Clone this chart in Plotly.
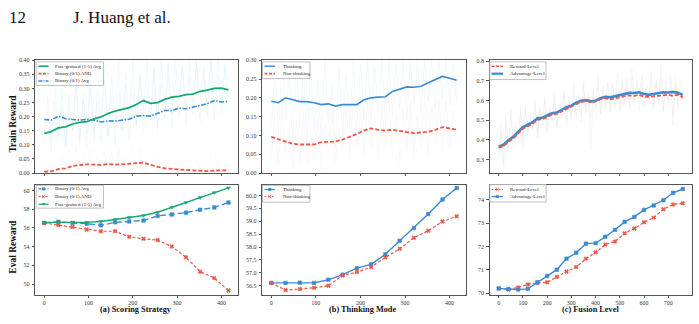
import plotly.graph_objects as go

W, H = 699, 324
FONT = "Liberation Serif"
BLUE = "#3a8bd4"
RED = "#ee5646"
GREEN = "#19a96c"
FRAME = "#555555"

# ---------------- data ----------------
# Train reward (smoothed)
STEPS_TRAIN_AB = list(range(0, 417, 16))
A_TRAIN_FINE = [0.141, 0.147, 0.160, 0.164, 0.174, 0.180, 0.182, 0.192, 0.199, 0.211,
                0.220, 0.225, 0.232, 0.243, 0.257, 0.247, 0.250, 0.261, 0.269, 0.272,
                0.278, 0.280, 0.290, 0.294, 0.300, 0.301, 0.295]
A_TRAIN_AND = [0.005, 0.006, 0.014, 0.017, 0.025, 0.029, 0.031, 0.030, 0.029, 0.032,
               0.030, 0.031, 0.032, 0.035, 0.037, 0.029, 0.022, 0.017, 0.014, 0.013,
               0.011, 0.009, 0.007, 0.007, 0.009, 0.010, 0.010]
A_TRAIN_AVG = [0.190, 0.188, 0.202, 0.193, 0.190, 0.188, 0.190, 0.188, 0.181, 0.185,
               0.184, 0.188, 0.191, 0.202, 0.204, 0.202, 0.211, 0.222, 0.222, 0.230,
               0.228, 0.234, 0.240, 0.246, 0.257, 0.252, 0.254]
B_TRAIN_THINK = [0.191, 0.187, 0.200, 0.195, 0.190, 0.190, 0.187, 0.182, 0.184, 0.178,
                 0.182, 0.182, 0.182, 0.195, 0.200, 0.202, 0.203, 0.217, 0.223, 0.229,
                 0.228, 0.231, 0.240, 0.249, 0.257, 0.252, 0.247]
B_TRAIN_NOTHINK = [0.096, 0.090, 0.084, 0.078, 0.076, 0.076, 0.076, 0.082, 0.083, 0.084,
                   0.089, 0.096, 0.104, 0.113, 0.119, 0.115, 0.113, 0.115, 0.112, 0.108,
                   0.106, 0.108, 0.110, 0.115, 0.122, 0.119, 0.115]
STEPS_TRAIN_C = list(range(0, 761, 20))
C_TRAIN_REWARD = [0.360, 0.368, 0.390, 0.407, 0.432, 0.457, 0.469, 0.482, 0.502, 0.505,
                  0.515, 0.530, 0.532, 0.545, 0.559, 0.569, 0.582, 0.592, 0.599, 0.592,
                  0.596, 0.606, 0.612, 0.606, 0.612, 0.619, 0.622, 0.626, 0.624, 0.629,
                  0.619, 0.619, 0.622, 0.624, 0.626, 0.629, 0.624, 0.629, 0.616]
C_TRAIN_ADV = [0.365, 0.375, 0.398, 0.415, 0.440, 0.465, 0.477, 0.490, 0.510, 0.512,
               0.524, 0.535, 0.539, 0.552, 0.566, 0.574, 0.589, 0.599, 0.602, 0.596,
               0.599, 0.612, 0.619, 0.616, 0.622, 0.629, 0.633, 0.639, 0.638, 0.642,
               0.633, 0.629, 0.633, 0.636, 0.642, 0.641, 0.644, 0.639, 0.629]

# Train reward (raw, faint)
STEPS_RAW_AB = list(range(0, 417, 8))
A_RAW_FINE = [0.10, 0.22, 0.08, 0.25, 0.12, 0.30, 0.09, 0.24, 0.15, 0.33,
              0.10, 0.28, 0.14, 0.36, 0.12, 0.30, 0.18, 0.38, 0.13, 0.34,
              0.20, 0.40, 0.15, 0.35, 0.19, 0.40, 0.17, 0.36, 0.22, 0.40,
              0.20, 0.38, 0.16, 0.40, 0.24, 0.39, 0.21, 0.40, 0.26, 0.38,
              0.22, 0.40, 0.25, 0.40, 0.27, 0.38, 0.23, 0.40, 0.28, 0.40,
              0.24, 0.39, 0.27]
A_RAW_AVG = [0.14, 0.27, 0.12, 0.30, 0.16, 0.24, 0.10, 0.28, 0.15, 0.32,
             0.12, 0.26, 0.09, 0.30, 0.14, 0.25, 0.11, 0.33, 0.13, 0.27,
             0.10, 0.29, 0.15, 0.31, 0.12, 0.28, 0.17, 0.34, 0.14, 0.30,
             0.18, 0.36, 0.15, 0.32, 0.19, 0.35, 0.16, 0.33, 0.20, 0.38,
             0.17, 0.34, 0.21, 0.39, 0.18, 0.36, 0.20, 0.40, 0.19, 0.35,
             0.21, 0.37, 0.22]
A_RAW_AND = [0.00, 0.02, 0.00, 0.04, 0.01, 0.06, 0.00, 0.08, 0.02, 0.10,
             0.01, 0.07, 0.02, 0.09, 0.00, 0.06, 0.03, 0.08, 0.01, 0.07,
             0.02, 0.09, 0.01, 0.06, 0.02, 0.10, 0.01, 0.08, 0.00, 0.05,
             0.02, 0.06, 0.00, 0.04, 0.01, 0.05, 0.00, 0.03, 0.00, 0.04,
             0.01, 0.03, 0.00, 0.05, 0.00, 0.03, 0.01, 0.08, 0.00, 0.04,
             0.00, 0.03, 0.01]
B_RAW_THINK = [0.12, 0.28, 0.10, 0.30, 0.14, 0.26, 0.08, 0.30, 0.12, 0.27,
               0.06, 0.29, 0.11, 0.25, 0.09, 0.30, 0.13, 0.24, 0.07, 0.28,
               0.10, 0.26, 0.12, 0.30, 0.11, 0.29, 0.14, 0.30, 0.13, 0.28,
               0.16, 0.30, 0.12, 0.30, 0.15, 0.29, 0.17, 0.30, 0.14, 0.30,
               0.18, 0.30, 0.16, 0.30, 0.19, 0.30, 0.17, 0.30, 0.20, 0.30,
               0.18, 0.29, 0.19]
B_RAW_NOTHINK = [0.04, 0.15, 0.02, 0.18, 0.05, 0.12, 0.01, 0.14, 0.03, 0.16,
                 0.02, 0.11, 0.04, 0.15, 0.01, 0.13, 0.05, 0.17, 0.03, 0.12,
                 0.06, 0.18, 0.04, 0.20, 0.07, 0.16, 0.05, 0.19, 0.06, 0.15,
                 0.04, 0.18, 0.07, 0.20, 0.05, 0.16, 0.03, 0.17, 0.06, 0.19,
                 0.04, 0.15, 0.07, 0.21, 0.05, 0.18, 0.08, 0.20, 0.06, 0.19,
                 0.07, 0.17, 0.09]
STEPS_RAW_C = list(range(0, 761, 10))
C_RAW_ADV = [0.30, 0.45, 0.26, 0.52, 0.34, 0.55, 0.38, 0.47, 0.40, 0.56,
             0.36, 0.58, 0.42, 0.53, 0.45, 0.60, 0.41, 0.57, 0.47, 0.62,
             0.44, 0.55, 0.49, 0.64, 0.46, 0.58, 0.51, 0.66, 0.48, 0.60,
             0.50, 0.68, 0.52, 0.62, 0.49, 0.70, 0.54, 0.64, 0.35, 0.66,
             0.55, 0.72, 0.53, 0.67, 0.56, 0.70, 0.54, 0.68, 0.57, 0.74,
             0.55, 0.69, 0.58, 0.71, 0.56, 0.76, 0.59, 0.70, 0.55, 0.73,
             0.57, 0.68, 0.60, 0.75, 0.56, 0.71, 0.58, 0.78, 0.54, 0.70,
             0.59, 0.74, 0.47, 0.72, 0.57, 0.69, 0.61]
C_RAW_REWARD = [0.33, 0.48, 0.29, 0.50, 0.37, 0.53, 0.35, 0.49, 0.42, 0.54,
                0.39, 0.56, 0.43, 0.51, 0.46, 0.58, 0.43, 0.55, 0.48, 0.60,
                0.45, 0.57, 0.50, 0.62, 0.47, 0.56, 0.52, 0.64, 0.49, 0.61,
                0.52, 0.66, 0.50, 0.63, 0.53, 0.67, 0.55, 0.62, 0.51, 0.65,
                0.56, 0.69, 0.54, 0.65, 0.57, 0.68, 0.55, 0.70, 0.58, 0.66,
                0.56, 0.71, 0.59, 0.67, 0.57, 0.72, 0.58, 0.68, 0.60, 0.70,
                0.56, 0.66, 0.59, 0.71, 0.57, 0.69, 0.60, 0.72, 0.55, 0.67,
                0.58, 0.70, 0.52, 0.68, 0.57, 0.66, 0.60]

# Eval reward
STEPS_EVAL_AB = list(range(0, 417, 32))
A_EVAL_AVG = [56.52, 56.66, 56.52, 56.45, 56.27, 56.59, 56.69, 56.79, 57.28, 57.42,
              57.63, 57.94, 58.19, 58.71]
A_EVAL_AND = [56.52, 56.31, 56.10, 55.82, 55.64, 55.64, 55.05, 54.84, 54.70, 54.01,
              52.86, 51.32, 50.63, 49.30]
A_EVAL_FINE = [56.59, 56.59, 56.59, 56.59, 56.69, 56.90, 57.11, 57.32, 57.67, 58.19,
               58.71, 59.23, 59.76, 60.28]
B_EVAL_THINK = [56.61, 56.61, 56.62, 56.61, 56.73, 56.93, 57.18, 57.33, 57.72, 58.24,
                58.74, 59.28, 59.84, 60.29]
B_EVAL_NOTHINK = [56.61, 56.33, 56.37, 56.42, 56.50, 56.90, 57.03, 57.22, 57.60, 57.93,
                  58.36, 58.63, 58.99, 59.19]
STEPS_EVAL_C = list(range(0, 761, 40))
C_EVAL_ADV = [70.21, 70.18, 70.16, 70.19, 70.47, 70.74, 71.01, 71.48, 71.73, 72.12,
              72.14, 72.41, 72.71, 73.05, 73.26, 73.56, 73.75, 73.97, 74.29, 74.45]
C_EVAL_REWARD = [70.21, 70.16, 70.25, 70.38, 70.44, 70.47, 70.70, 70.93, 71.12, 71.48,
                 71.75, 72.08, 72.21, 72.56, 72.77, 73.03, 73.23, 73.59, 73.79, 73.84]

TITLES = ["(a) Scoring Strategy", "(b) Thinking Mode", "(c) Fusion Level"]

# ---------------- layout helpers ----------------
def px(v):
    return v / W


def py(v):
    return 1 - v / H


COLS = [(35.0, 237.7), (262.0, 466.0), (489.5, 692.0)]
ROWS = [(58.3, 173.3), (185.0, 297.0)]

fig = go.Figure()
layout = dict(
    width=W, height=H, margin=dict(l=0, r=0, t=0, b=0),
    paper_bgcolor="white", plot_bgcolor="white", showlegend=False,
    font=dict(family=FONT, color="#222222"),
)

XRANGES = [[-20.8, 436.8], [-20.8, 436.8], [-38, 798]]
XTICKS = [[0, 100, 200, 300, 400], [0, 100, 200, 300, 400],
          [0, 100, 200, 300, 400, 500, 600, 700]]
YCONF = {
    (0, 0): dict(range=[0, 0.40], tickvals=[0, .05, .1, .15, .2, .25, .3, .35, .4], tickformat=".2f"),
    (0, 1): dict(range=[0, 0.30], tickvals=[0, .05, .1, .15, .2, .25, .3], tickformat=".2f"),
    (0, 2): dict(range=[0.231, 0.805], tickvals=[.3, .4, .5, .6, .7, .8], tickformat=".1f"),
    (1, 0): dict(range=[48.88, 60.63], tickvals=[50, 52, 54, 56, 58, 60], tickformat="d"),
    (1, 1): dict(range=[56.16, 60.42], tickvals=[56.5, 57, 57.5, 58, 58.5, 59, 59.5, 60], tickformat=".1f"),
    (1, 2): dict(range=[69.95, 74.64], tickvals=[70, 71, 72, 73, 74], tickformat="d"),
}

axis_ids = {}
n = 0
for r, (y0, y1) in enumerate(ROWS):
    for c, (x0, x1) in enumerate(COLS):
        n += 1
        sfx = "" if n == 1 else str(n)
        axis_ids[(r, c)] = ("x" + sfx, "y" + sfx)
        common = dict(showline=True, linecolor=FRAME, linewidth=0.8, mirror=True,
                      ticks="outside", ticklen=2.5, tickwidth=0.6, tickcolor=FRAME,
                      showgrid=False, zeroline=False,
                      tickfont=dict(family=FONT, size=6, color="#333333"))
        layout["xaxis" + sfx] = dict(common, domain=[px(x0), px(x1)], anchor="y" + sfx,
                                     range=XRANGES[c], tickvals=XTICKS[c],
                                     showticklabels=(r == 1))
        layout["yaxis" + sfx] = dict(common, domain=[py(y1), py(y0)], anchor="x" + sfx,
                                     ticklabelstandoff=1, **YCONF[(r, c)])


def add_line(r, c, x, y, color, width, dash="solid", opacity=1.0, marker=None):
    xa, ya = axis_ids[(r, c)]
    kw = dict(x=x, y=y, xaxis=xa, yaxis=ya, opacity=opacity, hoverinfo="skip",
              line=dict(color=color, width=width, dash=dash))
    if marker:
        kw["mode"] = "lines+markers"
        kw["marker"] = dict(symbol=marker, size=3.5, color=color,
                            line=dict(width=0.6, color=color))
    else:
        kw["mode"] = "lines"
    fig.add_trace(go.Scatter(**kw))


DASH = "4px,2px"
DASHDOT = "5px,1.5px,1.5px,1.5px"

# raw faint traces
add_line(0, 0, STEPS_RAW_AB, A_RAW_FINE, "#2bb6c9", 0.6, opacity=0.13)
add_line(0, 0, STEPS_RAW_AB, A_RAW_AVG, BLUE, 0.6, opacity=0.10)
add_line(0, 0, STEPS_RAW_AB, A_RAW_AND, RED, 0.6, opacity=0.08)
add_line(0, 1, STEPS_RAW_AB, B_RAW_THINK, BLUE, 0.6, opacity=0.10)
add_line(0, 1, STEPS_RAW_AB, B_RAW_NOTHINK, RED, 0.6, opacity=0.08)
add_line(0, 2, STEPS_RAW_C, C_RAW_REWARD, RED, 0.6, opacity=0.07)
add_line(0, 2, STEPS_RAW_C, C_RAW_ADV, "#6a88b0", 0.6, opacity=0.12)

# smoothed train lines
add_line(0, 0, STEPS_TRAIN_AB, A_TRAIN_FINE, GREEN, 1.8)
add_line(0, 0, STEPS_TRAIN_AB, A_TRAIN_AND, RED, 1.8, DASH)
add_line(0, 0, STEPS_TRAIN_AB, A_TRAIN_AVG, BLUE, 1.6, DASHDOT)
add_line(0, 1, STEPS_TRAIN_AB, B_TRAIN_THINK, BLUE, 1.6)
add_line(0, 1, STEPS_TRAIN_AB, B_TRAIN_NOTHINK, RED, 1.8, DASH)
add_line(0, 2, STEPS_TRAIN_C, C_TRAIN_ADV, BLUE, 2.6)
add_line(0, 2, STEPS_TRAIN_C, C_TRAIN_REWARD, RED, 1.8, DASH)

# eval lines
add_line(1, 0, STEPS_EVAL_AB, A_EVAL_AVG, BLUE, 1.4, "6px,3px", marker="square")
add_line(1, 0, STEPS_EVAL_AB, A_EVAL_AND, RED, 1.2, "3px,2px", marker="x")
add_line(1, 0, STEPS_EVAL_AB, A_EVAL_FINE, GREEN, 1.4, marker="triangle-down")
add_line(1, 1, STEPS_EVAL_AB, B_EVAL_THINK, BLUE, 1.4, marker="square")
add_line(1, 1, STEPS_EVAL_AB, B_EVAL_NOTHINK, RED, 1.2, "3px,2px", marker="x")
add_line(1, 2, STEPS_EVAL_C, C_EVAL_REWARD, RED, 1.2, "3px,2px", marker="x")
add_line(1, 2, STEPS_EVAL_C, C_EVAL_ADV, BLUE, 1.4, marker="square")

# ---------------- custom legends ----------------
shapes = []
annotations = []


def legend(box, rows, lx0, lx1, tx):
    bx0, bx1, by0, by1 = box
    shapes.append(dict(type="rect", xref="paper", yref="paper", layer="above",
                       x0=px(bx0), x1=px(bx1), y0=py(by1), y1=py(by0),
                       line=dict(color="#b0b0b0", width=0.8),
                       fillcolor="rgba(255,255,255,0.85)"))
    for (label, color, width, dash, mk, yy) in rows:
        shapes.append(dict(type="line", xref="paper", yref="paper", layer="above",
                           x0=px(lx0), x1=px(lx1), y0=py(yy), y1=py(yy),
                           line=dict(color=color, width=width, dash=dash)))
        cx = (lx0 + lx1) / 2
        if mk == "square":
            shapes.append(dict(type="rect", xref="paper", yref="paper", layer="above",
                               x0=px(cx - 1.5), x1=px(cx + 1.5), y0=py(yy + 1.5), y1=py(yy - 1.5),
                               line=dict(width=0), fillcolor=color))
        elif mk == "x":
            for d in (1, -1):
                shapes.append(dict(type="line", xref="paper", yref="paper", layer="above",
                                   x0=px(cx - 1.5), x1=px(cx + 1.5), y0=py(yy - 1.5 * d), y1=py(yy + 1.5 * d),
                                   line=dict(color=color, width=0.9)))
        elif mk == "tri":
            shapes.append(dict(type="path", xref="paper", yref="paper", layer="above",
                               path=f"M {px(cx-1.8)} {py(yy-1.3)} L {px(cx+1.8)} {py(yy-1.3)} L {px(cx)} {py(yy+1.7)} Z",
                               line=dict(width=0), fillcolor=color))
        annotations.append(dict(xref="paper", yref="paper", x=px(tx), y=py(yy),
                                text=label, showarrow=False, xanchor="left", yanchor="middle",
                                font=dict(family=FONT, size=5, color="#222222")))


legend((36.2, 103.5, 60.0, 84.0), [
    ("Fine-grained (1-5) Avg", GREEN, 1.6, "solid", None, 64.4),
    ("Binary (0/1) AND", RED, 1.6, "3px,1.5px", None, 72.0),
    ("Binary (0/1) Avg", BLUE, 1.4, "4px,1px,1px,1px", None, 79.4),
], 38.5, 48.5, 53.0)
legend((36.2, 103.5, 185.8, 209.0), [
    ("Binary (0/1) Avg", BLUE, 1.2, "3px,1.5px", "square", 189.4),
    ("Binary (0/1) AND", RED, 1.0, "2px,1.5px", "x", 197.3),
    ("Fine-grained (1-5) Avg", GREEN, 1.2, "solid", "tri", 205.0),
], 38.5, 48.5, 53.0)
legend((262.5, 310.0, 60.0, 77.0), [
    ("Thinking", BLUE, 1.4, "solid", None, 64.4),
    ("Non-thinking", RED, 1.6, "3px,1.5px", None, 72.0),
], 264.5, 275.0, 280.5)
legend((262.5, 310.0, 185.8, 203.0), [
    ("Thinking", BLUE, 1.2, "solid", "square", 190.0),
    ("Non-thinking", RED, 1.0, "2px,1.5px", "x", 197.3),
], 264.5, 275.0, 280.5)
legend((489.8, 546.0, 60.0, 78.0), [
    ("Reward-Level", RED, 1.6, "3px,1.5px", None, 64.4),
    ("Advantage-Level", BLUE, 2.2, "solid", None, 72.0),
], 491.5, 503.0, 508.0)
legend((489.8, 546.0, 185.0, 202.7), [
    ("Reward-Level", RED, 1.0, "2px,1.5px", "x", 190.0),
    ("Advantage-Level", BLUE, 1.2, "solid", "square", 197.3),
], 491.5, 503.0, 508.0)

# ---------------- texts ----------------
annotations.append(dict(xref="paper", yref="paper", x=px(6.5), y=py(14.5), text="12",
                        showarrow=False, xanchor="left", yanchor="middle",
                        font=dict(family=FONT, size=17, color="#111111")))
annotations.append(dict(xref="paper", yref="paper", x=px(71.0), y=py(14.5), text="J. Huang et al.",
                        showarrow=False, xanchor="left", yanchor="middle",
                        font=dict(family=FONT, size=17, color="#111111")))
for label, yc in (("Train Reward", 122.5), ("Eval Reward", 248.0)):
    annotations.append(dict(xref="paper", yref="paper", x=px(13.3), y=py(yc), text=f"<b>{label}</b>",
                            showarrow=False, textangle=-90, xanchor="center", yanchor="middle",
                            font=dict(family=FONT, size=9.5, color="#111111")))
for title, xc in zip(TITLES, (136.3, 363.0, 590.0)):
    annotations.append(dict(xref="paper", yref="paper", x=px(xc), y=py(312.7), text=f"<b>{title}</b>",
                            showarrow=False, xanchor="center", yanchor="middle",
                            font=dict(family=FONT, size=8.3, color="#111111")))

layout["shapes"] = shapes
layout["annotations"] = annotations
fig.update_layout(**layout)
fig.write_html("out.html")
